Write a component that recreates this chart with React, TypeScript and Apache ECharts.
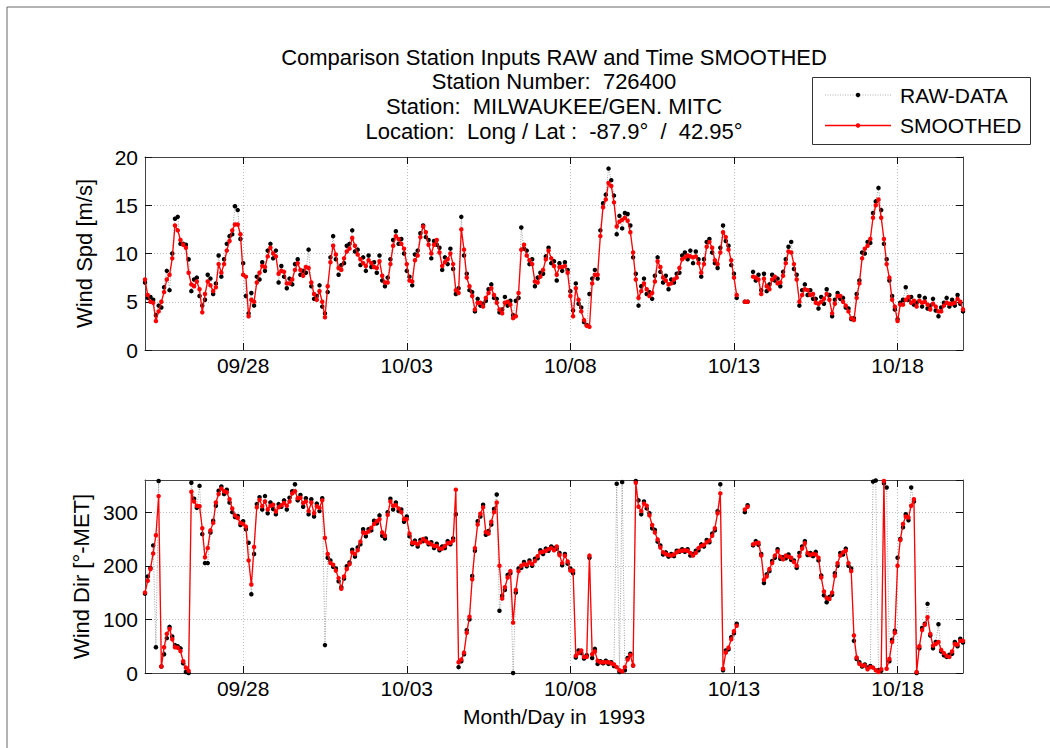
import React, { useEffect, useRef } from "react";
import * as echarts from "echarts";

const STEP_HOURS = 2;
const DAYS_TOTAL = 25;
const tickDays = [3, 8, 13, 18, 23];
const tickLabels = ["09/28", "10/03", "10/08", "10/13", "10/18"];
const titleLines = [
  "Comparison Station Inputs RAW and Time SMOOTHED",
  "Station Number:  726400",
  "Station:  MILWAUKEE/GEN. MITC",
  "Location:  Long / Lat :  -87.9°  /  42.95°",
];
const legendNames = ["RAW-DATA", "SMOOTHED"];

const spdSmooth = [
  7.3, 5.7, 5.0, 4.9, 3.0, 4.0, 5.0, 6.0, 7.3, 7.8, 9.5, 12.9,
  12.4, 11.4, 10.9, 10.6, 8.0, 6.8, 6.6, 7.1, 6.3, 3.9, 5.8, 7.1,
  6.7, 6.1, 6.5, 8.9, 8.0, 8.9, 10.3, 11.3, 12.4, 13.0, 13.0, 12.0,
  7.8, 7.6, 3.5, 5.2, 5.0, 7.0, 8.0, 8.7, 8.6, 9.7, 10.6, 10.0,
  9.7, 7.9, 8.2, 8.1, 6.9, 6.9, 7.3, 8.3, 9.0, 8.3, 7.7, 8.6,
  8.5, 7.0, 5.8, 5.2, 6.1, 5.0, 3.4, 6.6, 9.1, 10.8, 9.9, 8.5,
  8.3, 9.5, 10.2, 10.5,
  11.6, 10.8, 9.9, 9.4, 9.0, 8.7, 9.3, 9.0, 8.6, 8.5, 9.2, 7.7,
  7.0, 7.0, 8.9, 10.8, 11.8, 11.5, 11.0, 10.5, 8.9, 7.2, 7.1, 9.3,
  9.8, 11.7, 12.8, 12.2, 10.9, 10.0, 10.9, 11.4, 10.1, 8.7, 9.1, 9.4,
  10.0, 8.9, 6.2, 5.9, 12.5, 10.4, 7.5, 6.6, 5.6, 4.2, 4.9, 4.9,
  4.5, 5.4, 5.9, 6.4, 5.7, 4.9, 4.2, 3.8, 4.9, 5.0, 4.7, 3.3,
  3.5, 5.9, 10.4, 10.9, 9.8, 9.3, 8.9, 7.1, 7.0, 7.6, 8.3, 9.4,
  10.3, 9.5,
  8.7, 7.8, 8.6, 8.6, 8.7, 8.0, 5.6, 3.5, 6.4, 5.2, 4.0, 3.1,
  2.5, 2.4, 6.9, 7.8, 7.8, 11.8, 14.8, 15.6, 17.3, 17.0, 15.3, 12.8,
  13.3, 13.5, 13.7, 13.4, 12.2, 10.1, 7.3, 5.4, 6.1, 6.9, 6.3, 5.6,
  5.9, 7.1, 9.2, 8.6, 7.5, 7.2, 6.8, 6.9, 7.3, 7.5, 8.5, 9.4,
  9.6, 9.8, 9.7, 9.6, 9.7, 9.0, 8.0, 8.9, 10.7, 11.2, 10.6, 9.3,
  8.9, 10.1, 12.2, 11.7, 10.4, 9.3, 7.5, 5.7, null, null, 5.0, 5.0,
  null, 7.6, 7.5, 7.3, 5.8, 7.4, 6.6, 6.3, 7.3, 7.6, 6.9, 7.0,
  7.7, 9.0, 10.2, 10.1, 8.9, 7.3, 5.0, 5.7, 6.3, 6.2, 5.7, 5.8,
  4.9, 4.8, 5.0, 5.3, 5.8, 5.2, 3.8, 4.8, 5.6, 5.6, 5.0, 4.6,
  4.0, 3.3, 3.1, 5.4, 6.9, 9.5, 10.5, 10.8, 11.5, 13.7, 15.0, 15.6,
  13.7, 11.5, 8.9, 7.5, 5.2, 4.5, 3.0, 4.7, 4.7, 5.2, 5.5, 4.9,
  5.1, 4.5, 5.1, 4.9, 5.0, 4.7, 4.2, 4.8, 4.5, 4.0, 4.0, 4.6,
  4.9, 4.8, 4.8, 4.9, 5.3, 5.0, 4.2,
];

const spdRaw = [
  7.0, 5.4, 5.5, 5.2, 3.6, 4.6, 4.4, 6.5, 8.2, 6.2, 10.0, 13.6,
  13.8, 11.0, 11.0, 10.9, 9.4, 6.1, 7.3, 7.5, 5.6, 4.6, 5.2, 7.8,
  7.4, 5.8, 6.9, 9.8, 7.6, 9.4, 11.0, 11.8, 12.0, 14.9, 14.5, 11.5,
  9.0, 5.6, 3.8, 5.9, 4.6, 7.6, 7.3, 9.1, 8.2, 10.3, 11.0, 9.5,
  10.3, 7.0, 8.7, 7.6, 6.4, 7.4, 6.8, 8.9, 9.4, 7.8, 8.2, 8.0,
  10.4, 6.6, 5.3, 5.6, 6.7, 4.5, 3.8, 6.0, 9.6, 11.8, 9.4, 7.8,
  8.8, 9.0, 10.8, 11.0,
  12.4, 10.2, 10.4, 8.8, 9.6, 8.2, 9.8, 8.6, 9.1, 8.0, 9.8, 7.2,
  6.6, 7.5, 9.4, 11.4, 12.3, 11.0, 11.5, 10.0, 8.2, 7.6, 6.7, 9.9,
  10.3, 12.1, 12.9, 11.7, 11.4, 9.5, 11.3, 10.9, 10.6, 8.3, 9.6, 8.9,
  10.5, 8.4, 5.8, 6.4, 13.8, 9.8, 7.9, 6.2, 6.0, 4.0, 5.3, 4.6,
  4.8, 5.1, 6.3, 6.8, 5.4, 5.3, 3.9, 4.2, 5.5, 4.6, 5.1, 3.6,
  5.1, 5.4, 12.7, 10.5, 10.3, 8.9, 9.4, 6.6, 7.5, 8.0, 7.9, 9.7,
  10.6, 9.0,
  9.2, 7.2, 9.0, 8.2, 9.1, 8.3, 6.1, 4.1, 6.9, 4.8, 4.4, 2.9,
  2.6, 5.8, 7.4, 8.3, 7.4, 12.4, 15.2, 16.1, 18.8, 17.6, 16.0, 12.0,
  13.9, 12.6, 14.2, 14.1, 12.9, 9.6, 7.9, 4.6, 6.6, 7.4, 5.8, 6.0,
  5.3, 7.7, 9.6, 8.1, 7.0, 7.7, 6.3, 7.3, 7.0, 7.9, 8.0, 9.8,
  10.1, 9.4, 10.3, 9.0, 10.2, 9.4, 7.6, 9.4, 11.2, 11.5, 10.1, 9.0,
  8.5, 10.6, 12.9, 11.3, 10.8, 8.8, 7.9, 5.4, null, null, 5.0, 5.0,
  null, 8.1, 7.2, 7.8, 6.2, 7.9, 6.1, 6.8, 7.8, 7.2, 7.4, 6.6,
  8.1, 9.4, 10.7, 11.2, 8.4, 7.8, 4.6, 6.2, 6.8, 5.7, 6.2, 5.3,
  5.3, 4.3, 5.5, 4.8, 6.3, 5.7, 3.5, 5.2, 5.9, 5.3, 5.4, 4.4,
  4.3, 3.2, 3.3, 5.8, 7.2, 10.1, 10.0, 11.2, 11.1, 14.2, 15.4, 16.8,
  14.5, 11.0, 9.4, 7.2, 5.6, 4.2, 3.2, 4.9, 5.2, 6.5, 5.2, 5.5,
  4.7, 4.9, 5.6, 4.5, 5.4, 4.3, 4.6, 5.3, 4.1, 3.5, 4.4, 4.9,
  5.4, 4.5, 5.2, 4.6, 5.7, 4.8, 4.0,
];

const dirSmooth = [
  150, 172, 194, 223, 257, 330, 12, 48, 73, 82, 63, 48,
  47, 41, 22, 10, 4, 338, 320, 312, 311, 270, 216, 233,
  266, 280, 318, 334, 344, 339, 337, 324, 307, 294, 289, 280,
  278, 273, 210, 165, 235, 309, 323, 311, 320, 305, 312, 314,
  301, 309, 313, 317, 312, 320, 335, 339, 326, 327, 317, 320,
  302, 318, 298, 311, 308, 322, 252, 222, 205, 202, 191, 177,
  157, 180, 194, 203,
  225, 222, 229, 245, 262, 261, 264, 271, 278, 283, 287, 262,
  256, 295, 320, 312, 313, 307, 300, 287, 287, 260, 243, 243,
  240, 244, 250, 246, 243, 240, 237, 237, 232, 232, 237, 242,
  243, 247, 342, 20, 25, 38, 75, 105, 175, 233, 277, 297,
  309, 263, 260, 282, 300, 318, 200, 139, 160, 178, 190, 94,
  155, 190, 200, 203, 202, 206, 203, 209, 218, 225, 226, 228,
  231, 233,
  229, 236, 220, 205, 219, 208, 191, 191, 32, 37, 42, 30,
  30, 219, 35, 40, 23, 20, 20, 20, 20, 18, 16, 11,
  5, 3, 11, 25, 33, 14, 355, 310, 302, 316, 312, 294,
  276, 262, 249, 234, 225, 222, 220, 219, 221, 225, 228, 228,
  229, 228, 224, 219, 224, 233, 237, 239, 244, 247, 256, 270,
  298, 335, 8, 38, 47, 63, 78, 88, null, null, 305, 310,
  null, 240, 242, 243, 219, 174, 180, 194, 205, 219, 227, 217,
  212, 219, 217, 215, 207, 200, 218, 232, 242, 224, 220, 222,
  221, 215, 178, 152, 140, 138, 150, 181, 205, 219, 225, 228,
  205, 190, 70, 29, 17, 14, 14, 7, 11, 10, 5, 2,
  7, 358, 8, 26, 58, 75, 200, 248, 278, 292, 290, 312,
  324, 2, 50, 80, 90, 104, 73, 51, 54, 58, 43, 37,
  32, 30, 40, 54, 53, 60, 60,
];

const dirRaw = [
  148, 180, 196, 238, 48, 358, 12, 35, 65, 86, 68, 52,
  50, 46, 18, 2, 0, 355, 325, 308, 349, 259, 205, 205,
  262, 284, 312, 340, 348, 334, 342, 318, 300, 291, 293, 276,
  283, 268, 243, 147, 222, 315, 328, 305, 330, 298, 318, 306,
  296, 315, 310, 322, 305, 327, 339, 352, 322, 332, 310, 326,
  296, 324, 292, 316, 302, 326, 52, 215, 210, 198, 195, 171,
  160, 176, 199, 206,
  230, 217, 234, 240, 268, 255, 268, 266, 284, 279, 294, 256,
  251, 300, 325, 305, 318, 302, 305, 282, 292, 255, 240, 247,
  236, 248, 246, 251, 240, 244, 233, 241, 229, 236, 233, 246,
  240, 251, 296, 11, 22, 35, 80, 100, 181, 228, 283, 292,
  314, 258, 265, 277, 306, 333, 116, 144, 155, 183, 186, 0,
  150, 195, 196, 207, 199, 210, 200, 213, 214, 229, 222, 232,
  228, 236,
  233, 232, 224, 201, 222, 204, 195, 186, 29, 42, 37, 27,
  33, 215, 28, 45, 17, 22, 18, 23, 17, 20, 13, 353,
  2, 356, 5, 28, 36, 14, 358, 322, 296, 320, 307, 298,
  270, 267, 245, 238, 221, 225, 217, 222, 218, 228, 226, 231,
  226, 231, 219, 222, 228, 229, 240, 236, 248, 244, 260, 266,
  302, 352, 5, 42, 44, 67, 74, 92, null, null, 300, 313,
  null, 238, 246, 239, 222, 168, 184, 190, 209, 215, 231, 213,
  216, 214, 221, 211, 210, 196, 224, 236, 246, 220, 224, 218,
  226, 210, 182, 145, 132, 142, 146, 186, 200, 224, 221, 232,
  200, 195, 60, 26, 20, 12, 16, 10, 13, 357, 359, 5,
  4, 354, 346, 22, 62, 79, 215, 250, 272, 296, 285, 346,
  320, 0, 46, 84, 92, 129, 70, 46, 58, 91, 40, 33,
  30, 34, 36, 58, 50, 64, 57,
];

const FONT = "'Liberation Sans', Arial, Helvetica, sans-serif";
const TICK_FONT = 21;

function toPairs(arr: (number | null)[]) {
  return arr.map((v, i) => [(i * STEP_HOURS) / 24, v]);
}

function makeXAxes(gridIndex: number, withName: boolean) {
  const base: any = {
    type: "value",
    gridIndex,
    min: 0,
    max: DAYS_TOTAL,
    axisLine: { show: true, onZero: false, lineStyle: { color: "#444", width: 1 } },
    axisTick: {
      show: true,
      inside: true,
      length: 7,
      customValues: tickDays,
      lineStyle: { color: "#111", width: 1 },
    },
  };
  return [
    {
      ...base,
      position: "bottom",
      name: withName ? "Month/Day in  1993" : "",
      nameLocation: "middle",
      nameGap: 33,
      nameTextStyle: { fontSize: 21, color: "#000", fontFamily: FONT },
      axisLabel: {
        show: true,
        customValues: tickDays,
        formatter: (v: number) => {
          const i = tickDays.indexOf(Math.round(v));
          return i >= 0 ? tickLabels[i] : "";
        },
        color: "#000",
        fontSize: TICK_FONT,
        fontFamily: FONT,
        margin: 5,
      },
      splitLine: { show: true, lineStyle: { color: "#bdbdbd", width: 1, type: [1, 2] } },
    },
    {
      ...base,
      position: "top",
      axisLabel: { show: false },
      splitLine: { show: false },
    },
  ];
}

function makeYAxes(gridIndex: number, max: number, interval: number, name: string) {
  const base: any = {
    type: "value",
    gridIndex,
    min: 0,
    max,
    interval,
    axisLine: { show: true, onZero: false, lineStyle: { color: "#444", width: 1 } },
    axisTick: { show: true, inside: true, length: 7, lineStyle: { color: "#111", width: 1 } },
  };
  return [
    {
      ...base,
      position: "left",
      name,
      nameLocation: "middle",
      nameGap: 50,
      nameRotate: 90,
      nameTextStyle: { fontSize: 22, color: "#000", fontFamily: FONT },
      axisLabel: {
        show: true,
        color: "#000",
        fontSize: TICK_FONT,
        fontFamily: FONT,
        margin: 7,
        showMaxLabel: max % interval === 0,
      },
      splitLine: { show: true, lineStyle: { color: "#bdbdbd", width: 1, type: [1, 2] } },
    },
    {
      ...base,
      position: "right",
      axisLabel: { show: false },
      splitLine: { show: false },
    },
  ];
}

function rawSeries(xi: number, yi: number, data: any[]) {
  return {
    type: "line",
    name: legendNames[0],
    xAxisIndex: xi,
    yAxisIndex: yi,
    data,
    symbol: "circle",
    symbolSize: 4.5,
    showAllSymbol: true,
    connectNulls: false,
    silent: true,
    z: 2,
    itemStyle: { color: "#000" },
    lineStyle: { color: "#888", width: 0.8, type: [1, 1.5] },
  };
}

function smoothSeries(xi: number, yi: number, data: any[]) {
  return {
    type: "line",
    name: legendNames[1],
    xAxisIndex: xi,
    yAxisIndex: yi,
    data,
    symbol: "circle",
    symbolSize: 4.5,
    showAllSymbol: true,
    connectNulls: false,
    silent: true,
    z: 3,
    itemStyle: { color: "#ff0000" },
    lineStyle: { color: "#ff0000", width: 1.3 },
  };
}

export default function App() {
  const ref = useRef<HTMLDivElement>(null);

  useEffect(() => {
    if (!ref.current) return;
    const chart = echarts.init(ref.current, undefined, { renderer: "svg" });
    const titleY = [57, 81, 106, 131];
    const option: any = {
      animation: false,
      backgroundColor: "#ffffff",
      grid: [
        { left: 145, top: 157, width: 818, height: 193, containLabel: false },
        { left: 145, top: 480, width: 818, height: 193, containLabel: false },
      ],
      xAxis: [...makeXAxes(0, false), ...makeXAxes(1, true)],
      yAxis: [
        ...makeYAxes(0, 20, 5, "Wind Spd [m/s]"),
        ...makeYAxes(1, 360, 100, "Wind Dir [°-MET]"),
      ],
      series: [
        rawSeries(0, 0, toPairs(spdRaw)),
        smoothSeries(0, 0, toPairs(spdSmooth)),
        rawSeries(2, 2, toPairs(dirRaw)),
        smoothSeries(2, 2, toPairs(dirSmooth)),
      ],
      graphic: [
        { type: "line", shape: { x1: 7, y1: 7, x2: 1050, y2: 7 }, style: { stroke: "#666", lineWidth: 1 } },
        { type: "line", shape: { x1: 7, y1: 7, x2: 7, y2: 748 }, style: { stroke: "#666", lineWidth: 1 } },
        ...titleLines.map((t, i) => ({
          type: "text",
          x: 554,
          y: titleY[i],
          style: {
            text: t,
            fill: "#000",
            font: `22px ${FONT}`,
            align: "center",
            verticalAlign: "middle",
          },
        })),
        {
          type: "rect",
          shape: { x: 812.5, y: 77.5, width: 218, height: 67 },
          style: { fill: "#fff", stroke: "#333", lineWidth: 1 },
          z: 10,
        },
        {
          type: "line",
          shape: { x1: 825, y1: 95, x2: 891, y2: 95 },
          style: { stroke: "#999", lineWidth: 0.8, lineDash: [1, 1.5] },
          z: 11,
        },
        { type: "circle", shape: { cx: 858, cy: 95, r: 2.2 }, style: { fill: "#000" }, z: 12 },
        {
          type: "line",
          shape: { x1: 825, y1: 125.5, x2: 891, y2: 125.5 },
          style: { stroke: "#ff0000", lineWidth: 1.3 },
          z: 11,
        },
        { type: "circle", shape: { cx: 858, cy: 125.5, r: 2.2 }, style: { fill: "#ff0000" }, z: 12 },
        ...legendNames.map((n, i) => ({
          type: "text",
          x: 900,
          y: i === 0 ? 95 : 125.5,
          z: 12,
          style: {
            text: n,
            fill: "#000",
            font: `21px ${FONT}`,
            align: "left",
            verticalAlign: "middle",
          },
        })),
      ],
    };
    chart.setOption(option);
    return () => chart.dispose();
  }, []);

  return (
    <div
      ref={ref}
      style={{ position: "absolute", left: 0, top: 0, width: 1050, height: 748, background: "#fff" }}
    />
  );
}
